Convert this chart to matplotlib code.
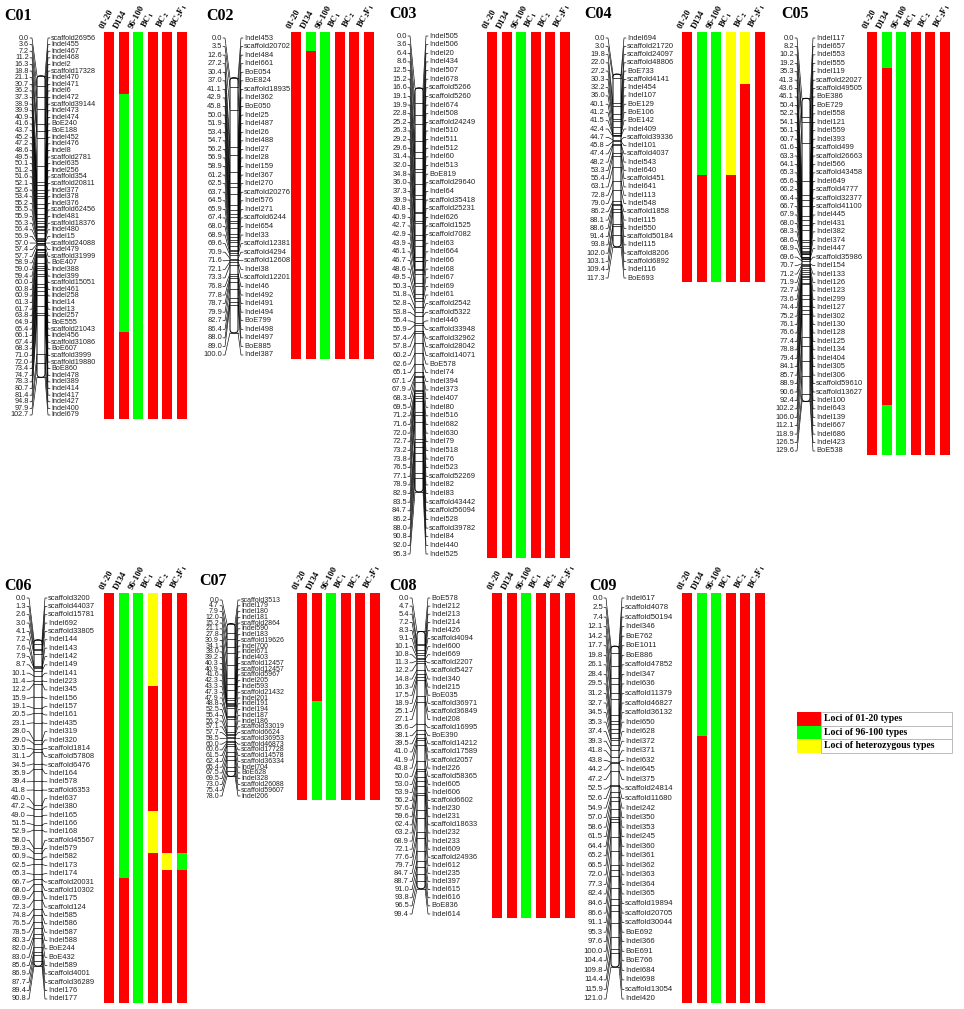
import numpy as np
import matplotlib.pyplot as plt
from matplotlib.patches import FancyBboxPatch, Rectangle

plt.rcParams['font.family'] = ['Liberation Sans', 'DejaVu Sans']
plt.rcParams['mathtext.fontset'] = 'stix'

LINES = ['01-20', 'D134', '96-100', r'$\mathbf{BC_1}$', r'$\mathbf{BC_2}$', r'$\mathbf{BC_2F_1}$']
TYPE_COLORS = {'A': '#ff0000', 'B': '#00ff00', 'H': '#ffff00'}
LEGEND_TYPES = ['A', 'B', 'H']
LEGEND_TEXT = ['Loci of 01-20 types', 'Loci of 96-100 types', 'Loci of heterozygous types']

C01_CM = [0.0, 3.6, 7.2, 11.2, 16.3, 18.8, 21.1, 30.7, 36.2, 37.3,
          38.9, 39.9, 40.9, 41.6, 43.7, 45.2, 47.2, 48.6, 49.5, 50.1,
          51.2, 51.6, 52.1, 52.6, 53.4, 55.2, 55.5, 55.9, 56.3, 56.4,
          56.9, 57.0, 57.4, 57.7, 58.9, 59.0, 59.4, 60.0, 60.8, 60.9,
          61.3, 61.7, 63.8, 64.9, 65.4, 66.1, 67.4, 68.3, 71.0, 72.0,
          73.4, 74.7, 78.3, 80.7, 81.4, 94.8, 97.9, 102.7]
C01_LOCI = ['scaffold26956', 'Indel455', 'Indel467', 'Indel468', 'Indel2', 'scaffold17328', 'Indel470', 'Indel471', 'Indel6', 'Indel472',
            'scaffold39144', 'Indel473', 'Indel474', 'BoE240', 'BoE188', 'Indel452', 'Indel476', 'Indel8', 'scaffold2781', 'Indel635',
            'Indel256', 'scaffold354', 'scaffold20811', 'Indel377', 'Indel378', 'Indel376', 'scaffold62456', 'Indel481', 'scaffold18376', 'Indel480',
            'Indel15', 'scaffold24088', 'Indel479', 'scaffold31999', 'BoE407', 'Indel388', 'Indel399', 'scaffold15051', 'Indel461', 'Indel258',
            'Indel14', 'Indel13', 'Indel257', 'BoE555', 'scaffold21043', 'Indel456', 'scaffold31086', 'BoE607', 'scaffold3999', 'scaffold19880',
            'BoE860', 'Indel478', 'Indel389', 'Indel414', 'Indel417', 'Indel427', 'Indel400', 'Indel679']
C01_GENO = [[('A', 58)], [('A', 9), ('B', 36), ('A', 13)], [('B', 58)], [('A', 58)], [('A', 58)], [('A', 58)]]

C02_CM = [0.0, 3.5, 12.6, 27.2, 30.4, 37.0, 41.1, 42.9, 45.8, 50.0,
          51.9, 53.4, 54.7, 56.2, 56.9, 58.9, 61.2, 62.5, 63.7, 64.5,
          65.9, 67.4, 68.0, 68.9, 69.6, 70.9, 71.6, 72.1, 73.3, 76.8,
          77.8, 78.7, 79.9, 82.7, 86.4, 88.0, 89.0, 100.0]
C02_LOCI = ['Indel453', 'scaffold20702', 'Indel484', 'Indel661', 'BoE054', 'BoE824', 'scaffold18935', 'Indel362', 'BoE050', 'Indel25',
            'Indel487', 'Indel26', 'Indel488', 'Indel27', 'Indel28', 'Indel159', 'Indel367', 'Indel270', 'scaffold20276', 'Indel576',
            'Indel271', 'scaffold6244', 'Indel654', 'Indel33', 'scaffold12381', 'scaffold4294', 'scaffold12608', 'Indel38', 'scaffold12201', 'Indel46',
            'Indel492', 'Indel491', 'Indel494', 'BoE799', 'Indel498', 'Indel497', 'BoE885', 'Indel387']
C02_GENO = [[('A', 38)], [('B', 2), ('A', 36)], [('B', 38)], [('A', 38)], [('A', 38)], [('A', 38)]]

C03_CM = [0.0, 3.6, 6.4, 8.6, 12.5, 15.2, 16.6, 19.1, 19.9, 22.8,
          25.2, 26.3, 29.2, 29.6, 31.4, 32.0, 34.8, 36.0, 37.3, 39.9,
          40.8, 40.9, 42.7, 42.9, 43.9, 46.1, 46.7, 48.6, 49.5, 50.3,
          51.8, 52.8, 53.8, 55.4, 55.9, 57.4, 57.8, 60.2, 62.6, 65.1,
          67.1, 67.9, 68.3, 69.5, 71.2, 71.6, 72.0, 72.7, 73.2, 73.8,
          76.5, 77.1, 78.9, 82.9, 83.5, 84.7, 86.2, 88.0, 90.8, 92.0,
          95.3]
C03_LOCI = ['Indel505', 'Indel506', 'Indel20', 'Indel434', 'Indel507', 'Indel678', 'scaffold5266', 'scaffold5260', 'Indel674', 'Indel508',
            'scaffold24249', 'Indel510', 'Indel511', 'Indel512', 'Indel60', 'Indel513', 'BoE819', 'scaffold29640', 'Indel64', 'scaffold35418',
            'scaffold25231', 'Indel626', 'scaffold1525', 'scaffold7082', 'Indel63', 'Indel664', 'Indel66', 'Indel68', 'Indel67', 'Indel69',
            'Indel61', 'scaffold2542', 'scaffold5322', 'Indel446', 'scaffold33948', 'scaffold32962', 'scaffold28042', 'scaffold14071', 'BoE578', 'Indel74',
            'Indel394', 'Indel373', 'Indel407', 'Indel80', 'Indel516', 'Indel682', 'Indel630', 'Indel79', 'Indel518', 'Indel76',
            'Indel523', 'scaffold52269', 'Indel82', 'Indel83', 'scaffold43442', 'scaffold56094', 'Indel528', 'scaffold39782', 'Indel84', 'Indel440',
            'Indel525']
C03_GENO = [[('A', 61)], [('A', 61)], [('B', 61)], [('A', 61)], [('A', 61)], [('A', 61)]]

C04_CM = [0.0, 3.0, 19.8, 22.0, 27.2, 30.3, 32.2, 36.0, 40.1, 41.2,
          41.5, 42.4, 44.7, 45.8, 47.4, 48.2, 53.3, 55.4, 63.1, 72.8,
          79.0, 86.2, 88.1, 88.6, 91.4, 93.8, 102.0, 103.1, 109.4, 117.3]
C04_LOCI = ['Indel694', 'scaffold21720', 'scaffold24097', 'scaffold48806', 'BoE733', 'scaffold4141', 'Indel454', 'Indel107', 'BoE129', 'BoE106',
            'BoE142', 'Indel409', 'scaffold39336', 'Indel101', 'scaffold4037', 'Indel543', 'Indel640', 'scaffold451', 'Indel641', 'Indel113',
            'Indel548', 'scaffold1858', 'Indel115', 'Indel550', 'scaffold50184', 'Indel115', 'scaffold8206', 'scaffold6892', 'Indel116', 'BoE693']
C04_GENO = [[('A', 30)], [('B', 17), ('A', 13)], [('B', 30)], [('H', 17), ('A', 13)], [('H', 6), ('A', 24)], [('A', 30)]]

C05_CM = [0.0, 8.2, 10.2, 19.2, 35.3, 41.3, 43.6, 46.1, 50.4, 52.2,
          54.1, 56.1, 60.7, 61.6, 63.3, 64.1, 65.3, 65.6, 66.2, 66.4,
          66.7, 67.9, 68.0, 68.3, 68.6, 68.9, 69.6, 70.7, 71.2, 71.9,
          72.7, 73.6, 74.4, 75.2, 76.1, 76.6, 77.4, 78.8, 79.4, 84.1,
          85.7, 88.9, 90.6, 92.4, 102.2, 106.0, 112.1, 118.9, 126.5, 129.6]
C05_LOCI = ['Indel117', 'Indel657', 'Indel553', 'Indel555', 'Indel119', 'scaffold22027', 'scaffold49505', 'BoE386', 'BoE729', 'Indel558',
            'Indel121', 'Indel559', 'Indel393', 'scaffold499', 'scaffold26663', 'Indel566', 'scaffold43458', 'Indel649', 'scaffold4777', 'scaffold32377',
            'scaffold41100', 'Indel445', 'Indel431', 'Indel382', 'Indel374', 'Indel447', 'scaffold35986', 'Indel154', 'Indel133', 'Indel126',
            'Indel123', 'Indel299', 'Indel127', 'Indel302', 'Indel130', 'Indel128', 'Indel125', 'Indel134', 'Indel404', 'Indel305',
            'Indel306', 'scaffold59610', 'scaffold13627', 'Indel100', 'Indel643', 'Indel139', 'Indel667', 'Indel686', 'Indel423', 'BoE538']
C05_GENO = [[('A', 50)], [('B', 4), ('A', 40), ('B', 6)], [('B', 50)], [('A', 50)], [('A', 50)], [('A', 50)]]

C06_CM = [0.0, 1.3, 2.6, 3.0, 4.1, 7.2, 7.6, 7.9, 8.7, 10.1,
          11.4, 12.2, 15.9, 19.1, 20.5, 23.1, 28.0, 29.0, 30.5, 31.1,
          34.5, 35.9, 39.4, 41.8, 46.0, 47.2, 49.0, 51.5, 52.9, 58.0,
          59.3, 60.9, 62.5, 65.3, 66.7, 68.0, 69.9, 72.3, 74.8, 76.5,
          78.5, 80.3, 82.0, 83.0, 85.6, 86.9, 87.7, 89.4, 90.8]
C06_LOCI = ['scaffold3200', 'scaffold44037', 'scaffold15781', 'Indel692', 'scaffold33805', 'Indel144', 'Indel143', 'Indel142', 'Indel149', 'Indel141',
            'Indel223', 'Indel345', 'Indel156', 'Indel157', 'Indel161', 'Indel435', 'Indel319', 'Indel320', 'scaffold1814', 'scaffold57808',
            'scaffold6476', 'Indel164', 'Indel578', 'scaffold6353', 'Indel637', 'Indel380', 'Indel165', 'Indel166', 'Indel168', 'scaffold45567',
            'Indel579', 'Indel582', 'Indel173', 'Indel174', 'scaffold20031', 'scaffold10302', 'Indel175', 'scaffold124', 'Indel585', 'Indel586',
            'Indel587', 'Indel588', 'BoE244', 'BoE432', 'Indel589', 'scaffold4001', 'scaffold36289', 'Indel176', 'Indel177']
C06_GENO = [[('A', 49)], [('B', 34), ('A', 15)], [('B', 49)],
            [('H', 11), ('A', 15), ('H', 5), ('A', 18)],
            [('A', 31), ('H', 2), ('A', 16)],
            [('A', 31), ('B', 2), ('A', 16)]]

C07_CM = [0.0, 4.7, 7.9, 12.0, 15.2, 21.1, 27.8, 30.9, 34.1, 38.0,
          39.2, 40.3, 40.9, 41.6, 42.3, 43.3, 47.3, 47.9, 48.8, 52.5,
          55.4, 56.2, 57.1, 57.7, 58.5, 60.0, 60.6, 61.5, 62.4, 65.4,
          67.5, 69.5, 73.0, 75.4, 78.0]
C07_LOCI = ['scaffold3513', 'Indel179', 'Indel180', 'Indel181', 'scaffold2864', 'Indel590', 'Indel183', 'scaffold19626', 'Indel700', 'Indel671',
            'Indel403', 'scaffold12457', 'scaffold12457', 'scaffold5967', 'Indel205', 'Indel593', 'scaffold21432', 'Indel201', 'Indel191', 'Indel194',
            'Indel187', 'Indel186', 'scaffold33019', 'scaffold6624', 'scaffold36953', 'scaffold46873', 'scaffold17728', 'scaffold14578', 'scaffold36334', 'Indel704',
            'BoE628', 'Indel328', 'scaffold26088', 'scaffold59607', 'Indel206']
C07_GENO = [[('A', 35)], [('A', 18), ('B', 17)], [('B', 35)], [('A', 35)], [('A', 35)], [('A', 35)]]

C08_CM = [0.0, 4.7, 5.4, 7.2, 8.3, 9.1, 10.1, 10.8, 11.3, 12.2,
          14.8, 16.3, 17.5, 18.9, 25.1, 27.1, 35.6, 38.1, 39.5, 41.0,
          41.9, 43.8, 50.0, 53.0, 53.9, 56.2, 57.6, 59.6, 62.4, 63.2,
          68.9, 72.1, 77.6, 79.7, 84.7, 88.7, 91.0, 93.8, 96.5, 99.4]
C08_LOCI = ['BoE578', 'Indel212', 'Indel213', 'Indel214', 'Indel426', 'scaffold4094', 'Indel600', 'Indel669', 'scaffold2207', 'scaffold5427',
            'Indel340', 'Indel215', 'BoE035', 'scaffold36971', 'scaffold36849', 'Indel208', 'scaffold16995', 'BoE390', 'scaffold14212', 'scaffold17589',
            'scaffold2057', 'Indel226', 'scaffold58365', 'Indel605', 'Indel606', 'scaffold6602', 'Indel230', 'Indel231', 'scaffold18633', 'Indel232',
            'Indel233', 'Indel609', 'scaffold24936', 'Indel612', 'Indel235', 'Indel397', 'Indel615', 'Indel616', 'BoE836', 'Indel614']
C08_GENO = [[('A', 40)], [('A', 40)], [('B', 40)], [('A', 40)], [('A', 40)], [('A', 40)]]

C09_CM = [0.0, 2.5, 7.4, 12.1, 14.2, 17.7, 19.8, 26.1, 28.4, 29.5,
          31.2, 32.7, 34.5, 35.3, 37.4, 39.3, 41.8, 43.8, 44.2, 47.2,
          52.5, 52.6, 54.9, 57.0, 58.6, 61.5, 64.4, 65.2, 66.5, 72.0,
          77.3, 82.4, 84.6, 86.6, 91.1, 95.3, 97.6, 100.0, 104.4, 109.8,
          114.4, 115.9, 121.0]
C09_LOCI = ['Indel617', 'scaffold4078', 'scaffold50194', 'Indel346', 'BoE762', 'BoE1011', 'BoE886', 'scaffold47852', 'Indel347', 'Indel636',
            'scaffold11379', 'scaffold46827', 'scaffold36132', 'Indel650', 'Indel628', 'Indel372', 'Indel371', 'Indel632', 'Indel645', 'Indel375',
            'scaffold24814', 'scaffold11680', 'Indel242', 'Indel350', 'Indel353', 'Indel245', 'Indel360', 'Indel361', 'Indel362', 'Indel363',
            'Indel364', 'Indel365', 'scaffold19894', 'scaffold20705', 'scaffold30044', 'BoE692', 'Indel366', 'BoE691', 'BoE766', 'Indel684',
            'Indel698', 'scaffold13054', 'Indel420']
C09_GENO = [[('A', 43)], [('B', 15), ('A', 28)], [('B', 43)], [('A', 43)], [('A', 43)], [('A', 43)]]

# layout in pixels: chromosome centre x, first / last label row y, first bar x, bar top,
# chromosome top/bottom as fraction of the label column, title x, title y, font size
LAYOUT = {
    'C01': (41, 38, 415, 104, 32, 0.10, 0.90, 4, 16, 5.2),
    'C02': (234, 38, 355, 291, 32, 0.125, 0.93, 206, 16, 5.4),
    'C03': (419, 36, 554, 487, 32, 0.10, 0.88, 389, 14, 5.4),
    'C04': (617, 38, 278, 682, 32, 0.15, 0.87, 584, 14, 5.4),
    'C05': (806, 38, 451, 867, 32, 0.146, 0.88, 781, 14, 5.4),
    'C06': (38, 598, 999, 104, 593, 0.104, 0.918, 4, 586, 5.4),
    'C07': (231, 600, 796, 297, 593, 0.12, 0.90, 199, 581, 5.0),
    'C08': (421, 598, 914, 492, 593, 0.106, 0.92, 389, 586, 5.4),
    'C09': (615, 598, 999, 682, 593, 0.12, 0.92, 589, 586, 5.6),
}
CHROMS = {
    'C01': (C01_CM, C01_LOCI, C01_GENO), 'C02': (C02_CM, C02_LOCI, C02_GENO),
    'C03': (C03_CM, C03_LOCI, C03_GENO), 'C04': (C04_CM, C04_LOCI, C04_GENO),
    'C05': (C05_CM, C05_LOCI, C05_GENO), 'C06': (C06_CM, C06_LOCI, C06_GENO),
    'C07': (C07_CM, C07_LOCI, C07_GENO), 'C08': (C08_CM, C08_LOCI, C08_GENO),
    'C09': (C09_CM, C09_LOCI, C09_GENO),
}

BAR_W = 10
BAR_PITCH = 14.5


def draw_chrom(ax, name, cm, loci, geno, xc, y0, y1, bx, btop, ftop, fbot, tx, ty, fs):
    cm = np.array(cm)
    n = len(cm)
    rows = np.linspace(y0, y1, n)
    yt = y0 + ftop * (y1 - y0)
    yb = y0 + fbot * (y1 - y0)
    yc = yt + (cm - cm[0]) / (cm[-1] - cm[0]) * (yb - yt)
    hw = 4
    xnum = xc - 12
    xlab = xc + 10

    ax.add_patch(FancyBboxPatch((xc - hw, yt), 2 * hw, yb - yt,
                                boxstyle='round,pad=0,rounding_size=3.5',
                                fc='white', ec='black', lw=0.7, zorder=3))
    for r, c, p, lab in zip(rows, yc, cm, loci):
        ax.plot([xc - hw, xc + hw], [c, c], color='black', lw=0.5, zorder=4)
        ax.plot([xnum + 1, xnum + 3, xc - hw], [r, r, c], color='black', lw=0.45)
        ax.plot([xc + hw, xlab - 3, xlab - 1], [c, r, r], color='black', lw=0.45)
        ax.text(xnum, r, f'{p:.1f}', ha='right', va='center', fontsize=fs, color='#222222')
        ax.text(xlab, r, lab, ha='left', va='center', fontsize=fs, color='#222222')

    ax.text(tx, ty, name, ha='left', va='center', fontsize=11.5, fontweight='bold',
            family='Liberation Serif')

    # genotype bars, one slice per locus row
    bottom = y1 + 4
    edges = np.concatenate([[btop], (rows[:-1] + rows[1:]) / 2, [bottom]])
    for j, runs in enumerate(geno):
        x = bx + j * BAR_PITCH
        k = 0
        for t, cnt in runs:
            ax.bar(x, edges[k + cnt] - edges[k], bottom=edges[k], width=BAR_W,
                   align='edge', color=TYPE_COLORS[t], lw=0)
            k += cnt
        ax.text(x + 1.5, btop - 2, LINES[j], rotation=62, rotation_mode='anchor',
                ha='left', va='bottom', fontsize=6.3, fontweight='bold',
                family='Liberation Serif')


fig = plt.figure(figsize=(9.64, 10.09), dpi=100)
ax = fig.add_axes([0, 0, 1, 1])
ax.set_xlim(0, 964)
ax.set_ylim(1009, 0)
ax.axis('off')

for name, (cm, loci, geno) in CHROMS.items():
    draw_chrom(ax, name, cm, loci, geno, *LAYOUT[name])

# legend table
lx, ly, lh = 797, 712, 13.5
for i, (t, txt) in enumerate(zip(LEGEND_TYPES, LEGEND_TEXT)):
    y = ly + i * lh
    ax.bar(lx, lh, bottom=y, width=24, align='edge', color=TYPE_COLORS[t], lw=0)
    ax.add_patch(Rectangle((lx + 24, y), 131, lh, fc='none', ec='#bbbbbb', lw=0.7))
    ax.text(lx + 27, y + lh / 2, txt, ha='left', va='center', fontsize=7,
            fontweight='bold', family='Liberation Serif')

fig.savefig('out.png', dpi=100)
